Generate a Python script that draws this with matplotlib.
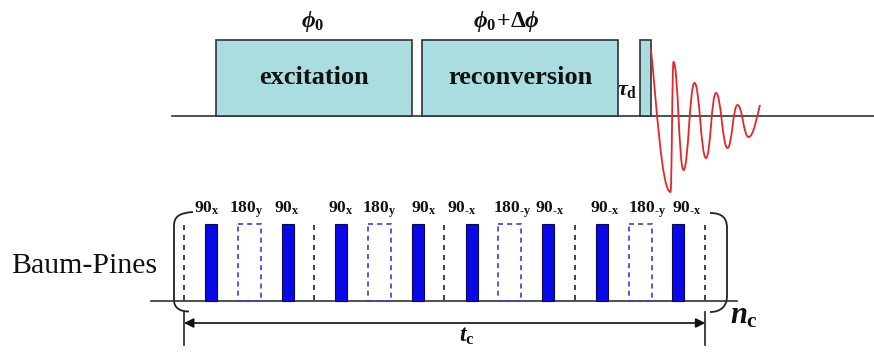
import matplotlib
matplotlib.use("Agg")
import matplotlib.pyplot as plt
from matplotlib.patches import Rectangle, PathPatch
from matplotlib.path import Path

plt.rcParams['mathtext.fontset'] = 'custom'
plt.rcParams['mathtext.rm'] = 'Liberation Serif:bold'
plt.rcParams['mathtext.it'] = 'Liberation Serif:italic:bold'
plt.rcParams['mathtext.bf'] = 'Liberation Serif:bold'
plt.rcParams['font.family'] = ['Liberation Serif', 'DejaVu Serif']

# ---------------- data ----------------
# top sequence blocks: (left, right)
block_names = ['excitation', 'reconversion', '']
block_left = [216, 422, 640]
block_right = [412, 618, 651]
block_phase = [r'$\phi_0$', r'$\phi_0\!+\!\Delta\phi$', '']
block_phase_x = [313, 506, 0]

# FID extrema (x, y) in pixel coordinates
fid_x = [651, 670.5, 673.5, 683.5, 694.5, 706, 716, 727.5, 737.5, 748.5, 760]
fid_y = [50, 192, 62, 170, 83, 158, 93, 148, 105, 137, 105]

# Baum-Pines cycle boundaries
cycle_bounds = [184, 314.3, 444.3, 575, 705.3]
pulse90_left = [205, 282, 335, 412, 466, 542, 596, 672]
pulse180_left = [238, 368, 498, 629]
pulse_labels = ['90_x', '180_y', '90_x', '90_x', '180_y', '90_x',
                '90_-x', '180_-y', '90_-x', '90_-x', '180_-y', '90_-x']
label_x = [207, 246, 287, 341, 379, 424, 462, 512, 550, 605, 647, 687]

# ---------------- figure ----------------
fig = plt.figure(figsize=(8.74, 3.56), dpi=100)
ax = fig.add_axes([0, 0, 1, 1])
ax.set_xlim(0, 874)
ax.set_ylim(356, 0)
ax.axis('off')

edge = '#2b3535'
fill = '#a9dde0'
ink = '#111111'
top_base = 116
top_top = 39.5

ax.plot([172, 874], [top_base, top_base], color=edge, lw=1.2, zorder=1)
for name, l, r, ph, phx in zip(block_names, block_left, block_right,
                               block_phase, block_phase_x):
    ax.add_patch(Rectangle((l, top_top), r - l, top_base - top_top,
                           facecolor=fill, edgecolor=edge, lw=1.2, zorder=2))
    if name:
        ax.text((l + r) / 2, 78, name, ha='center', va='center',
                fontsize=19, fontweight='bold', color=ink, zorder=3)
    if ph:
        ax.text(phx, 22, ph, ha='center', va='center', fontsize=17,
                color=ink)

ax.text(627, 90, r'$\tau_{\mathrm{d}}$', ha='center', va='center',
        fontsize=16, color=ink)

# FID via cubic Bezier segments between extrema
verts = [(fid_x[0], fid_y[0])]
codes = [Path.MOVETO]
for i in range(len(fid_x) - 1):
    x0, y0, x1, y1 = fid_x[i], fid_y[i], fid_x[i + 1], fid_y[i + 1]
    dx = (x1 - x0) * 0.45
    if i == 0:
        c1 = (x0 + dx * 0.6, y0 + (y1 - y0) * 0.35)
    else:
        c1 = (x0 + dx, y0)
    if i == len(fid_x) - 2:
        c2 = (x1 - dx * 0.6, y1 + (y0 - y1) * 0.35)
    else:
        c2 = (x1 - dx, y1)
    verts += [c1, c2, (x1, y1)]
    codes += [Path.CURVE4] * 3
ax.add_patch(PathPatch(Path(verts, codes), facecolor='none',
                       edgecolor='#e5262b', lw=1.3, zorder=4))

# ---------------- Baum-Pines ----------------
bot_base = 301
ptop = 224
ax.plot([151, 737], [bot_base, bot_base], color=edge, lw=1.2, zorder=1)
for xb in cycle_bounds:
    ax.plot([xb, xb], [ptop + 1, bot_base], color='#222222', lw=1.2,
            ls=(0, (3, 3)), zorder=2)
for xl in pulse90_left:
    ax.add_patch(Rectangle((xl, ptop), 12, bot_base - ptop,
                           facecolor='#0808e8', edgecolor='#0a0a50',
                           lw=0.8, zorder=3))
for xl in pulse180_left:
    ax.add_patch(Rectangle((xl, ptop), 23, bot_base - ptop,
                           facecolor='none', edgecolor='#3a3ae0',
                           lw=1.2, ls=(0, (3, 2.5)), zorder=3))

for lab, lx in zip(pulse_labels, label_x):
    main, sub = lab.split('_')
    ax.text(lx, 212.5, r'$\mathrm{%s}_{\text{%s}}$' % (main, sub),
            ha='center', va='baseline', fontsize=12.5, color=ink)

ax.text(84, 266, 'Baum-Pines', ha='center', va='center', fontsize=21.5,
        color=ink)

# braces
lb = Path([(193, 212), (180, 213), (174, 216), (174, 226),
           (174, 300), (174, 308), (180, 311.5), (189, 311.5)],
          [Path.MOVETO, Path.CURVE4, Path.CURVE4, Path.CURVE4,
           Path.LINETO, Path.CURVE4, Path.CURVE4, Path.CURVE4])
ax.add_patch(PathPatch(lb, facecolor='none', edgecolor='#222222', lw=1.3))
rb = Path([(710, 213), (722, 213), (727, 218), (727, 228),
           (727, 296), (727, 306), (721, 312), (710, 312)],
          [Path.MOVETO, Path.CURVE4, Path.CURVE4, Path.CURVE4,
           Path.LINETO, Path.CURVE4, Path.CURVE4, Path.CURVE4])
ax.add_patch(PathPatch(rb, facecolor='none', edgecolor='#222222', lw=1.3))

# t_c arrow
ax.plot([cycle_bounds[0]] * 2, [311.5, 345], color='#222222', lw=1.2)
ax.plot([cycle_bounds[-1]] * 2, [311.5, 345], color='#222222', lw=1.2)
ax.annotate('', xy=(cycle_bounds[0], 323), xytext=(cycle_bounds[-1], 323),
            arrowprops=dict(arrowstyle='<|-|>', color=ink, lw=1.2,
                            shrinkA=0, shrinkB=0, mutation_scale=14))
ax.text(467, 336, r'$t_{\mathrm{c}}$', ha='center', va='center',
        fontsize=17, color=ink)
ax.text(744, 316, r'$n_{\mathrm{c}}$', ha='center', va='center',
        fontsize=22, color=ink)

fig.savefig('out.png', dpi=100)
